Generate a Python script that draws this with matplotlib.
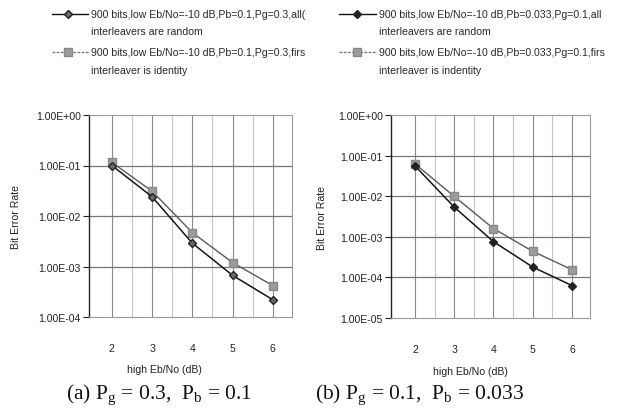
import numpy as np
import matplotlib
matplotlib.use("Agg")
import matplotlib.pyplot as plt
from matplotlib.ticker import FixedLocator, FuncFormatter

plt.rcParams['font.family'] = ['Liberation Sans', 'DejaVu Sans']

ebno = [2, 3, 4, 5, 6]

# (a) Pg = 0.3, Pb = 0.1
ber_a_random = [1.0e-1, 2.4e-2, 2.9e-3, 6.7e-4, 2.2e-4]
ber_a_identity = [1.15e-1, 3.1e-2, 4.7e-3, 1.2e-3, 4.2e-4]

# (b) Pg = 0.1, Pb = 0.033
ber_b_random = [5.6e-2, 5.4e-3, 7.6e-4, 1.8e-4, 6.3e-5]
ber_b_identity = [6.3e-2, 9.9e-3, 1.6e-3, 4.4e-4, 1.55e-4]

legend_a = ["900 bits,low Eb/No=-10 dB,Pb=0.1,Pg=0.3,all(",
            "interleavers are random",
            "900 bits,low Eb/No=-10 dB,Pb=0.1,Pg=0.3,firs",
            "interleaver is identity"]
legend_b = ["900 bits,low Eb/No=-10 dB,Pb=0.033,Pg=0.1,all",
            "interleavers are random",
            "900 bits,low Eb/No=-10 dB,Pb=0.033,Pg=0.1,firs",
            "interleaver is indentity"]

captions = [r"(a) P$_{\mathrm{g}}$ = 0.3,  P$_{\mathrm{b}}$ = 0.1",
            r"(b) P$_{\mathrm{g}}$ = 0.1,  P$_{\mathrm{b}}$ = 0.033"]

W, H = 622, 410
fig = plt.figure(figsize=(W / 100, H / 100), dpi=100)
fig.patch.set_facecolor('white')
plt.rcParams['mathtext.fontset'] = 'custom'
plt.rcParams['mathtext.rm'] = 'Liberation Serif'


def px_axes(left, top, right, bottom):
    return fig.add_axes([left / W, 1 - bottom / H, (right - left) / W, (bottom - top) / H])


def sci(v, pos):
    e = int(round(np.log10(v)))
    return "1.00E{}{:02d}".format('+' if e >= 0 else '-', abs(e))


def draw_panel(ax, xlim, ymin, rnd, ident, rnd_color):
    ax.set_yscale('log')
    ax.set_ylim(ymin, 1.0)
    ax.set_xlim(*xlim)
    decades = [10.0 ** k for k in range(int(np.log10(ymin)), 1)]
    ax.yaxis.set_major_locator(FixedLocator(decades))
    ax.yaxis.set_minor_locator(FixedLocator([]))
    ax.yaxis.set_major_formatter(FuncFormatter(sci))
    ax.set_xticks(ebno)
    ax.tick_params(axis='x', length=0, pad=19, labelsize=7.6, colors='#222222')
    ax.tick_params(axis='y', length=4, width=0.8, direction='out', pad=2,
                   labelsize=7.6, colors='#222222')
    # vertical grid at every half step, horizontal at decades
    for xv in np.arange(2.0, 6.01, 0.5):
        c = '#8a8a8a' if float(xv).is_integer() else '#c4c4c4'
        ax.axvline(xv, color=c, lw=0.8, zorder=0)
    for d in decades[1:-1]:
        ax.axhline(d, color='#777777', lw=0.9, zorder=0)
    for s in ['top', 'right', 'bottom']:
        ax.spines[s].set_color('#9a9a9a')
        ax.spines[s].set_linestyle((0, (2, 1)))
        ax.spines[s].set_linewidth(0.8)
    ax.spines['left'].set_color('#222222')
    ax.spines['left'].set_linewidth(1.0)
    ax.plot(ebno, ident, color='#5a5a5a', lw=1.0, marker='s', ms=5.5,
            mfc='#9b9b9b', mec='#8a8a8a', zorder=3)
    ax.plot(ebno, rnd, color='#151515', lw=1.1, marker='D', ms=4.2,
            mfc=rnd_color, mec='#222222', zorder=4)
    ax.set_xlabel("high Eb/No (dB)", fontsize=7.6, color='#222222')
    ax.set_ylabel("Bit Error Rate", fontsize=7.6, color='#222222')


ax_a = px_axes(89, 116, 292, 318)
draw_panel(ax_a, (1.43, 6.48), 1e-4, ber_a_random, ber_a_identity, '#6a6a6a')
ax_a.xaxis.set_label_coords((164 - 89) / 203, -0.235)
ax_a.yaxis.set_label_coords((21 - 89) / 203, 0.5)

ax_b = px_axes(391, 116, 590, 319)
draw_panel(ax_b, (1.39, 6.46), 1e-5, ber_b_random, ber_b_identity, '#222222')
ax_b.xaxis.set_label_coords((470 - 391) / 199, -0.235)
ax_b.yaxis.set_label_coords((327 - 391) / 199, 0.5)


def legend_block(x0, x1, xm, rows, rnd_color):
    ys = [15, 32, 53, 71]
    fy = lambda y: 1 - y / H
    fx = lambda x: x / W
    fig.add_artist(plt.Line2D([fx(x0), fx(x1)], [fy(ys[0])] * 2, color='#111111', lw=1.0))
    fig.add_artist(plt.Line2D([fx(xm)], [fy(ys[0])], marker='D', ms=4.2,
                              mfc=rnd_color, mec='#222222', lw=0))
    fig.add_artist(plt.Line2D([fx(x0), fx(x1)], [fy(ys[2])] * 2, color='#777777',
                              lw=1.0, ls=(0, (2, 1))))
    fig.add_artist(plt.Line2D([fx(xm)], [fy(ys[2])], marker='s', ms=5.5,
                              mfc='#9b9b9b', mec='#8a8a8a', lw=0))
    for y, txt in zip(ys, rows):
        fig.text(fx(x1 + 3), fy(y), txt, fontsize=7.6, color='#2a2a2a',
                 ha='left', va='center')


legend_block(52, 88, 68, legend_a, '#6a6a6a')
legend_block(339, 376, 357, legend_b, '#222222')

fig.text(66 / W, 1 - 395 / H, captions[0], fontsize=15.5, family='Liberation Serif',
         ha='left', va='center', color='#111111')
fig.text(315 / W, 1 - 395 / H, captions[1], fontsize=15.5, family='Liberation Serif',
         ha='left', va='center', color='#111111')

fig.savefig("out.png", dpi=100, facecolor='white')
